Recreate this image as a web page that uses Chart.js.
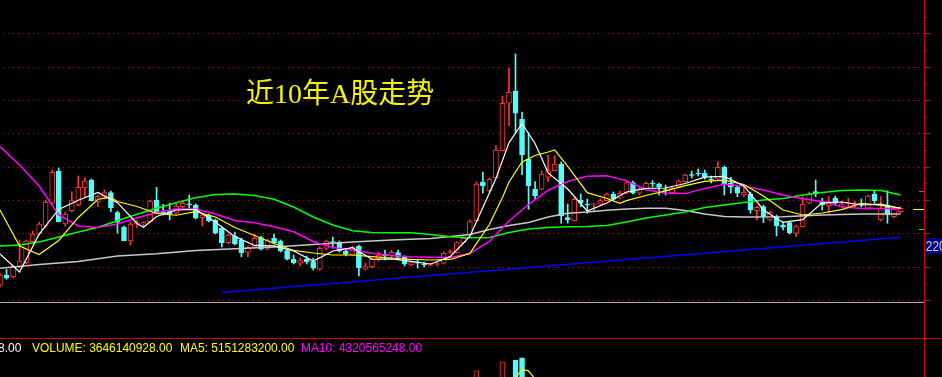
<!DOCTYPE html>
<html><head><meta charset="utf-8">
<script src="https://cdn.jsdelivr.net/npm/chart.js@4.4.1/dist/chart.umd.min.js"></script>
<style>
html,body{margin:0;padding:0;background:#000;overflow:hidden}
#wrap{position:relative;width:942px;height:377px;overflow:hidden;background:#000}
#c{position:absolute;left:0;top:0}
.t{position:absolute;white-space:nowrap}
#title{left:246px;top:80px;font:28px/28px "Liberation Serif","Noto Sans CJK SC",serif;color:#f4f400}
.row{top:340.5px;font:13px/13px "Liberation Sans",Arial,sans-serif;transform:scaleX(0.92);transform-origin:0 0}
#tag{left:925px;top:237.5px;width:30px;height:16px;background:#000080;color:#d0d0d0;font:14px/16px "Liberation Sans",Arial,sans-serif;padding-left:1px;transform:scaleX(0.85);transform-origin:0 0}
</style></head>
<body>
<div id="wrap">
<canvas id="c" width="942" height="377"></canvas>
<div class="t" id="title">近10年A股走势</div>
<div class="t row" style="left:-2px;color:#ffffff">8.00</div>
<div class="t row" style="left:32px;color:#ffff00">VOLUME: 3646140928.00</div>
<div class="t row" style="left:180px;color:#ffff00">MA5: 5151283200.00</div>
<div class="t row" style="left:301px;color:#ff00ff">MA10: 4320565248.00</div>
<div class="t" id="tag">2200</div>
</div>
<script>
// ---- categories: monthly bars 2008-11 .. 2020-05 ----
const categories = [];
for (let k = 0; k < 139; k++) { const m = 10 + k; categories.push((2008 + Math.floor(m / 12)) + '-' + String(m % 12 + 1).padStart(2, '0')); }

// ---- OHLC (index points) ----
const open = [1725,1875,1850,2000,2060,2375,2486,2610,2951,3435,
2640,2840,2925,3185,3300,2975,3041,3110,2810,2591,
2385,2640,2640,2675,3000,2820,2825,2801,2900,2940,
2925,2735,2775,2700,2576,2360,2460,2400,2216,2291,
2435,2261,2426,2385,2240,2111,2051,2115,2075,1961,
2276,2378,2360,2235,2171,2310,1961,2000,2111,2186,
2160,2210,2141,2025,2066,2040,2018,2033,2051,2201,
2210,2360,2471,2690,3270,3140,3335,3740,4451,4635,
4211,3611,3161,3161,3341,3440,3540,2735,2690,3000,
2940,2925,2936,2990,3090,3026,3101,3260,3101,3165,
3255,3240,3158,3110,3191,3276,3383,3405,3401,3315,
3311,3491,3251,3191,3075,3090,2840,2900,2700,2750,
2625,2660,2501,2600,2951,3125,2975,2910,3026,2900,
2940,2910,2948,2876,3090,2700,2925,2750,2825];
const close = [1875,1826,2000,2085,2385,2490,2640,2966,3416,2675,
2790,2990,3191,3285,2990,3050,3110,2885,2666,2390,
2640,2663,2663,2985,2825,2805,2790,2910,2951,2925,
2726,2775,2690,2501,2360,2475,2340,2210,2291,2426,
2261,2400,2360,2235,2111,2060,2090,2075,1976,2276,
2385,2363,2235,2186,2291,1985,2000,2111,2175,2160,
2216,2141,2040,2060,2051,2025,2033,2048,2201,2225,
2360,2426,2675,3240,3210,3311,3750,4451,4616,4301,
3680,3215,3065,3390,3440,3540,2760,2700,3011,2951,
2925,2940,2990,3090,3011,3101,3260,3101,3165,3251,
3240,3191,3143,3176,3285,3375,3368,3390,3341,3300,
3491,3225,3191,3101,3116,2850,2891,2750,2816,2610,
2591,2510,2600,2940,3090,3090,2925,2975,2951,2940,
2955,2951,2933,3060,2990,2876,2775,2861,2876];
const high = [1905,1961,2025,2400,2400,2535,2670,3000,3450,3480,
2820,3125,3360,3335,3315,3075,3150,3135,2835,2610,
2670,2700,2675,3000,3191,2936,2955,2960,2990,3075,
2940,2790,2790,2715,2595,2490,2520,2430,2310,2490,
2460,2415,2490,2400,2265,2175,2130,2160,2130,2295,
2400,2445,2385,2265,2310,2325,2055,2130,2220,2250,
2250,2250,2160,2085,2100,2070,2055,2070,2220,2250,
2370,2445,2700,3270,3420,3330,3815,4560,4976,5190,
4320,4010,3276,3435,3675,3660,3570,2940,3030,3090,
3015,2955,3015,3105,3120,3135,3285,3285,3195,3270,
3290,3255,3225,3195,3300,3390,3435,3465,3450,3360,
3575,3510,3341,3210,3200,3120,2910,2925,2835,2775,
2675,2685,2625,3050,3120,3300,3026,3050,3060,2985,
3026,2985,3015,3075,3140,3050,3140,2880,2900];
const low = [1695,1811,1830,1980,2040,2370,2475,2580,2940,2670,
2610,2820,2910,3050,2985,2900,3015,2825,2501,2385,
2325,2580,2600,2655,2820,2775,2700,2790,2880,2880,
2715,2610,2670,2490,2295,2340,2325,2150,2150,2280,
2250,2250,2340,2220,2100,2040,2010,2040,1950,1950,
2250,2280,2220,2160,2160,1860,1950,1980,2085,2100,
2130,2115,2010,2010,1980,1995,2010,2010,2040,2190,
2205,2340,2460,2685,3101,3120,3330,3735,4110,4010,
3380,2861,3000,3150,3276,3435,2651,2651,2685,2900,
2801,2825,2925,2985,3000,3015,3090,3090,3075,3150,
3200,3075,3075,3090,3180,3270,3330,3360,3311,3255,
3300,3075,3101,3050,3050,2801,2700,2660,2685,2460,
2550,2490,2450,2595,2940,3050,2850,2801,2925,2880,
2876,2895,2895,2865,2951,2685,2651,2730,2805];

// ---- moving averages: [barIndex, value] ----
const ma5 = [[0,2190],[3,1920],[6,2487],[9,2858],[12,2997],[15,3113],[18,2960],[21,2648],[22,2591],[24,2753],[27,2850],[30,2858],[33,2670],[36,2450],[39,2318],[42,2313],[45,2235],[48,2085],[50,2183],[51,2235],[54,2285],[57,2111],[60,2118],[63,2078],[66,2040],[69,2150],[72,2453],[74,2888],[76,3323],[78,3858],[80,4148],[82,3848],[84,3407],[87,3165],[90,2835],[93,2955],[96,3120],[99,3174],[102,3180],[105,3248],[108,3342],[111,3353],[114,3212],[117,2850],[120,2664],[123,2705],[126,2958],[129,2970],[132,2925],[135,2939],[138,2876]];
const ma10 = [[0,2850],[3,2310],[6,2183],[9,2393],[12,2738],[15,3011],[17,3038],[18,2978],[21,2903],[24,2798],[27,2771],[30,2825],[33,2745],[36,2588],[39,2468],[42,2348],[45,2243],[48,2205],[51,2175],[54,2175],[57,2151],[60,2130],[63,2109],[66,2100],[69,2108],[72,2199],[75,2633],[77,3038],[78,3270],[80,3570],[82,3668],[84,3720],[85,3750],[87,3503],[90,3110],[93,3023],[95,2951],[96,2990],[99,3068],[102,3138],[105,3216],[108,3279],[111,3297],[114,3233],[117,3060],[120,2850],[123,2775],[126,2805],[129,2855],[132,2951],[135,2918],[138,2876]];
const ma20 = [[0,3800],[3,3525],[6,3210],[9,2775],[12,2610],[15,2588],[18,2640],[21,2735],[24,2813],[27,2865],[30,2865],[33,2790],[36,2693],[39,2658],[42,2598],[45,2523],[48,2378],[51,2288],[54,2250],[57,2201],[60,2168],[63,2148],[66,2141],[69,2138],[72,2199],[75,2378],[78,2685],[81,2933],[84,3146],[87,3278],[90,3356],[93,3363],[96,3291],[99,3155],[102,3105],[105,3096],[108,3174],[111,3236],[114,3206],[117,3150],[120,3075],[123,3020],[126,2978],[129,2900],[132,2873],[135,2873],[138,2870]];
const ma60 = [[0,2310],[3,2325],[6,2370],[9,2445],[12,2520],[15,2592],[18,2688],[21,2786],[24,2876],[27,2958],[30,3035],[33,3083],[36,3090],[39,3068],[42,3011],[45,2895],[48,2745],[51,2625],[54,2540],[57,2513],[60,2510],[63,2510],[66,2483],[69,2450],[72,2433],[75,2438],[78,2513],[81,2565],[84,2588],[87,2598],[90,2603],[93,2618],[96,2670],[99,2730],[102,2775],[105,2820],[108,2888],[111,2925],[114,2963],[117,3000],[120,3023],[123,3075],[126,3113],[129,3143],[132,3150],[135,3143],[138,3075]];
const ma120 = [[0,1976],[6,2033],[12,2078],[18,2160],[24,2193],[30,2243],[36,2270],[42,2295],[48,2333],[54,2370],[60,2400],[66,2423],[72,2483],[75,2558],[78,2618],[81,2663],[84,2745],[87,2801],[90,2820],[93,2847],[96,2865],[99,2876],[102,2876],[105,2843],[108,2790],[111,2753],[114,2745],[120,2750],[126,2775],[132,2790],[138,2790]];
const trendLine = [[34,1613],[138,2441]];

// ---- volume (only the tips that show in the lower pane) ----
const volume = [[73,17700000000],[77,19300000000],[79,19600000000],[80,20000000000]];
const volMa5 = [[79,16400000000],[80,17950000000],[81,17700000000],[82,16250000000]];

// ---- axis values ----
const gridValues = [5500,5000,4500,4000,3500,3000,2500,2000,1500];
const tickValues = [5750,5500,5250,5000,4750,4500,4250,4000,3750,3500,3250,3000,2750,2500,2250,2000,1750,1500];
const axisMarks = [3135,2860,2560];

// ---- build ----
const RED = '#ff3232', CYAN = '#54fcfc', AXIS_X = 924;
const up = open.map((o, i) => close[i] >= o);
const pts = arr => arr.map(([i, v]) => ({x: categories[i], y: v}));
const volData = categories.map(() => null);
volume.forEach(([i, v]) => { volData[i] = v; });

const line = (data, color, w, axis) => ({type: 'line', data: pts(data), borderColor: color, borderWidth: w, pointRadius: 0, tension: 0, fill: false, order: 0, yAxisID: axis || 'y'});

const frame = {
  id: 'frame',
  beforeDatasetsDraw(chart) {
    const ctx = chart.ctx, ys = chart.scales.y;
    ctx.save();
    ctx.strokeStyle = '#c00000'; ctx.lineWidth = 1; ctx.setLineDash([1, 4]);
    gridValues.forEach(v => {
      const py = Math.round(ys.getPixelForValue(v)) + 0.5;
      ctx.beginPath(); ctx.moveTo(3, py); ctx.lineTo(AXIS_X, py); ctx.stroke();
    });
    ctx.setLineDash([]);
    ctx.strokeStyle = '#b4b4b4';
    ctx.beginPath(); ctx.moveTo(0, 302.5); ctx.lineTo(AXIS_X, 302.5); ctx.stroke();
    ctx.restore();
  },
  afterDraw(chart) {
    const ctx = chart.ctx, ys = chart.scales.y;
    ctx.save();
    ctx.strokeStyle = '#d00000'; ctx.lineWidth = 1;
    ctx.beginPath(); ctx.moveTo(0, 338.5); ctx.lineTo(942, 338.5); ctx.stroke();
    ctx.beginPath(); ctx.moveTo(AXIS_X + 0.5, 0); ctx.lineTo(AXIS_X + 0.5, 377); ctx.stroke();
    tickValues.forEach(v => {
      const py = Math.round(ys.getPixelForValue(v)) + 0.5;
      const len = v % 500 === 0 ? 6 : 3;
      ctx.beginPath(); ctx.moveTo(AXIS_X, py); ctx.lineTo(AXIS_X + len, py); ctx.stroke();
    });
    const markStyle = [['#ff3232', 5], ['#ffff00', 11], ['#00ff00', 5]];
    axisMarks.forEach((v, k) => {
      const py = Math.round(ys.getPixelForValue(v)) + 0.5;
      ctx.strokeStyle = markStyle[k][0];
      ctx.beginPath(); ctx.moveTo(AXIS_X - markStyle[k][1], py); ctx.lineTo(AXIS_X, py); ctx.stroke();
    });
    ctx.restore();
  }
};

new Chart(document.getElementById('c'), {
  type: 'bar',
  data: {
    labels: categories,
    datasets: [
      line(ma5, '#ffffff', 1.2),
      line(ma10, '#ffff00', 1.2),
      line(ma20, '#ff00ff', 1.5),
      line(ma60, '#00ff00', 1.5),
      line(ma120, '#c8c8c8', 1.5),
      line(trendLine, '#0000ff', 1.6),
      line(volMa5, '#ffff00', 1.2, 'yv'),
      {type: 'bar', data: open.map((o, i) => [o, close[i]]), backgroundColor: up.map(u => u ? '#000000' : CYAN), borderColor: up.map(u => u ? RED : CYAN), borderWidth: 1, borderSkipped: false, barThickness: 5, minBarLength: 1, grouped: false, order: 5, clip: false, yAxisID: 'y'},
      {type: 'bar', data: low.map((l, i) => [l, high[i]]), backgroundColor: up.map(u => u ? RED : CYAN), borderWidth: 0, barThickness: 1, grouped: false, order: 6, clip: false, yAxisID: 'y'},
      {type: 'bar', data: volData, backgroundColor: up.map(u => u ? '#000000' : CYAN), borderColor: up.map(u => u ? RED : CYAN), borderWidth: 1, borderSkipped: 'start', barThickness: 5, grouped: false, order: 7, yAxisID: 'yv'}
    ]
  },
  options: {
    responsive: false, animation: false, devicePixelRatio: 1, events: [],
    layout: {padding: {left: 0, right: 41.5, top: 0, bottom: 0}},
    plugins: {legend: {display: false}, tooltip: {enabled: false}, title: {display: false}},
    scales: {
      x: {type: 'category', offset: false, display: false},
      y: {type: 'linear', min: 345, max: 6000, display: false},
      yv: {type: 'linear', min: 16600000000, max: 83900000000, display: false}
    }
  },
  plugins: [frame]
});
</script>
</body></html>
